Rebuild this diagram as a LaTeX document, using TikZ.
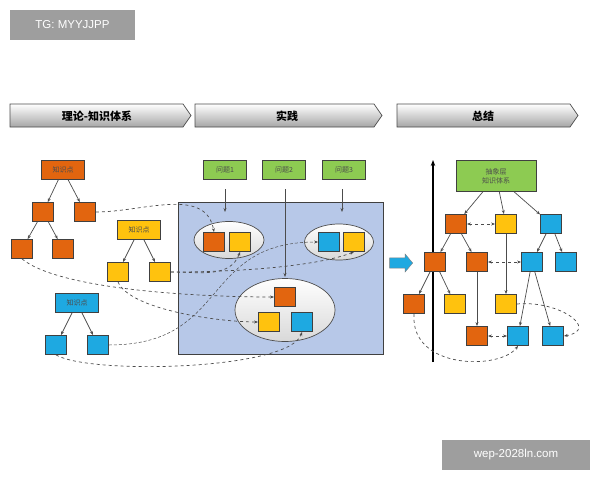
\documentclass[tikz,border=0pt]{standalone}
\usepackage{fontspec}
\setmainfont{Liberation Sans}
\newfontfamily\cjk{Noto Sans CJK SC}
\usetikzlibrary{arrows.meta,shapes.arrows,shapes.geometric}
\definecolor{cO}{HTML}{E2650F}
\definecolor{cY}{HTML}{FFC20E}
\definecolor{cB}{HTML}{1EA9E1}
\definecolor{cG}{HTML}{8DCB52}
\definecolor{panel}{HTML}{B7C8E8}
\begin{document}
\begin{tikzpicture}[x=1pt,y=-1pt,
 sq/.style={draw=black!75,line width=0.8pt,minimum width=21pt,minimum height=19pt,inner sep=0pt},
 O/.style={sq,fill=cO}, Y/.style={sq,fill=cY}, B/.style={sq,fill=cB},
 lab/.style={draw=black!75,line width=0.8pt,minimum width=43pt,minimum height=19pt,inner sep=0pt,font=\cjk\fontsize{7}{8}\selectfont,text=black!70},
 q/.style={lab,fill=cG},
 e/.style={-{Stealth[length=4pt]},black!70,line width=0.7pt},
 d/.style={-{Stealth[length=4pt]},black!70,dashed,line width=0.7pt},
 dd/.style={{Stealth[length=4pt]}-{Stealth[length=4pt]},black!70,dashed,line width=0.7pt},
 ell/.style={draw=black!70,line width=0.7pt,top color=white,bottom color=black!15},
 head/.style={draw=black!70,line width=0.7pt,top color=white,bottom color=black!35},
 htext/.style={font=\cjk\bfseries\fontsize{11}{13}\selectfont}]
\useasboundingbox (0,0) rectangle (600,480);
% watermarks
\node[fill=black!38,text=white,minimum width=125pt,minimum height=30pt,font=\fontsize{11.5}{13}\selectfont] (tg) at (72.5,25) {TG: MYYJJPP};
\node[fill=black!38,text=white,minimum width=148pt,minimum height=30pt,font=\fontsize{11.5}{13}\selectfont] (wm) at (516,455) {wep-2028ln.com};
% headers
\path[head] (10,104) -- (183,104) -- (191,115.5) -- (183,127) -- (10,127) -- cycle;
\path[head] (195,104) -- (374,104) -- (382,115.5) -- (374,127) -- (195,127) -- cycle;
\path[head] (397,104) -- (570,104) -- (578,115.5) -- (570,127) -- (397,127) -- cycle;
\node[htext] (h1) at (97,116) {理论-知识体系};
\node[htext] (h2) at (287,116) {实践};
\node[htext] (h3) at (483,116) {总结};
% left trees
\node[lab,fill=cO] (ko) at (63,170) {知识点};
\node[O] (o1) at (43,212) {}; \node[O] (o2) at (85,212) {};
\node[O] (o3) at (22,249) {}; \node[O] (o4) at (63,249) {};
\draw[e] (ko)--(o1); \draw[e] (ko)--(o2); \draw[e] (o1)--(o3); \draw[e] (o1)--(o4);
\node[lab,fill=cY] (ky) at (139,230) {知识点};
\node[Y] (y1) at (118,272) {}; \node[Y] (y2) at (160,272) {};
\draw[e] (ky)--(y1); \draw[e] (ky)--(y2);
\node[lab,fill=cB] (kb) at (77,303) {知识点};
\node[B] (b1) at (56,345) {}; \node[B] (b2) at (98,345) {};
\draw[e] (kb)--(b1); \draw[e] (kb)--(b2);
% middle panel
\node[draw=black!75,line width=0.8pt,fill=panel,minimum width=205pt,minimum height=152pt,inner sep=0pt] (pan) at (280.5,278) {};
\node[q] (q1) at (225,170) {问题1};
\node[q] (q2) at (284,170) {问题2};
\node[q] (q3) at (344,170) {问题3};
\node[ell,ellipse,minimum width=70pt,minimum height=37pt,inner sep=0pt] (e1) at (229,240) {};
\node[ell,ellipse,minimum width=69pt,minimum height=36pt,inner sep=0pt] (e2) at (339,242) {};
\node[ell,ellipse,minimum width=100pt,minimum height=63pt,inner sep=0pt] (e3) at (285,310) {};
\node[O] (m1) at (214,242) {}; \node[Y] (m2) at (240,242) {};
\node[B] (m3) at (329,242) {}; \node[Y] (m4) at (354,242) {};
\node[O] (m5) at (285,297) {}; \node[Y] (m6) at (269,322) {}; \node[B] (m7) at (302,322) {};
\coordinate (a1) at (225,212); \coordinate (a2) at (285,277); \coordinate (a3) at (342,212);
\coordinate (s1t) at (225,189); \coordinate (s2t) at (285,189); \coordinate (s3t) at (342,189);
\draw[e] (s1t) -- (a1);
\draw[e] (s2t) -- (a2);
\draw[e] (s3t) -- (a3);
% left-to-middle dashed
\draw[d] (o2.east) to[out=0,in=100] (m1.north);
\draw[d] (y2.east) to[out=0,in=-110] (m2.south);
\draw[d] (y2.east) .. controls (250,272) and (320,265) .. (m4.south);
\draw[d] (o3.south) .. controls (60,290) and (200,297) .. (m5.west);
\draw[d] (y1.south) .. controls (130,310) and (220,322) .. (m6.west);
\draw[-{Stealth[length=4pt]},black!70,densely dashed,line width=0.5pt] (b2.east) .. controls (230,345) and (200,242) .. (m3.west);
\draw[d] (b1.south) .. controls (90,375) and (290,370) .. (m7.south);
% big arrow
\node[single arrow,fill=cB,draw=black!50,minimum height=23pt,minimum width=18pt,single arrow head extend=2pt,single arrow tip angle=100,inner sep=2.5pt] (ba) at (399,263) {};
% right panel
\coordinate (vb) at (433,362); \coordinate (vt) at (433,160);
\draw[-{Stealth[length=6pt]},line width=1.2pt] (vb)--(vt);
\node[q,minimum width=80pt,minimum height=31pt,align=center,font=\cjk\fontsize{7}{9}\selectfont] (g) at (496,176) {抽象层\\知识体系};
\node[O] (r1) at (456,224) {}; \node[Y] (r2) at (506,224) {}; \node[B] (r3) at (551,224) {};
\node[O] (s1) at (435,262) {}; \node[O] (s2) at (477,262) {}; \node[B] (s3) at (532,262) {}; \node[B] (s4) at (566,262) {};
\node[O] (t1) at (414,304) {}; \node[Y] (t2) at (455,304) {}; \node[Y] (t3) at (506,304) {};
\node[O] (u1) at (477,336) {}; \node[B] (u2) at (518,336) {}; \node[B] (u3) at (553,336) {};
\draw[e] (g)--(r1); \draw[e] (g)--(r2); \draw[e] (g)--(r3);
\draw[e] (r1)--(s1); \draw[e] (r1)--(s2); \draw[e] (r3)--(s3); \draw[e] (r3)--(s4);
\draw[e] (s1)--(t1); \draw[e] (s1)--(t2); \draw[e] (r2)--(t3); \draw[e] (s2)--(u1);
\draw[e] (s3)--(u2); \draw[e] (s3)--(u3);
\draw[dd] (r1)--(r2); \draw[dd] (s2)--(s3); \draw[dd] (u1)--(u2);
\draw[d] (t3.east) .. controls (560,300) and (600,330) .. (u3.east);
\draw[d] (t1.south) .. controls (410,370) and (500,370) .. (u2.south);
\end{tikzpicture}
\end{document}
